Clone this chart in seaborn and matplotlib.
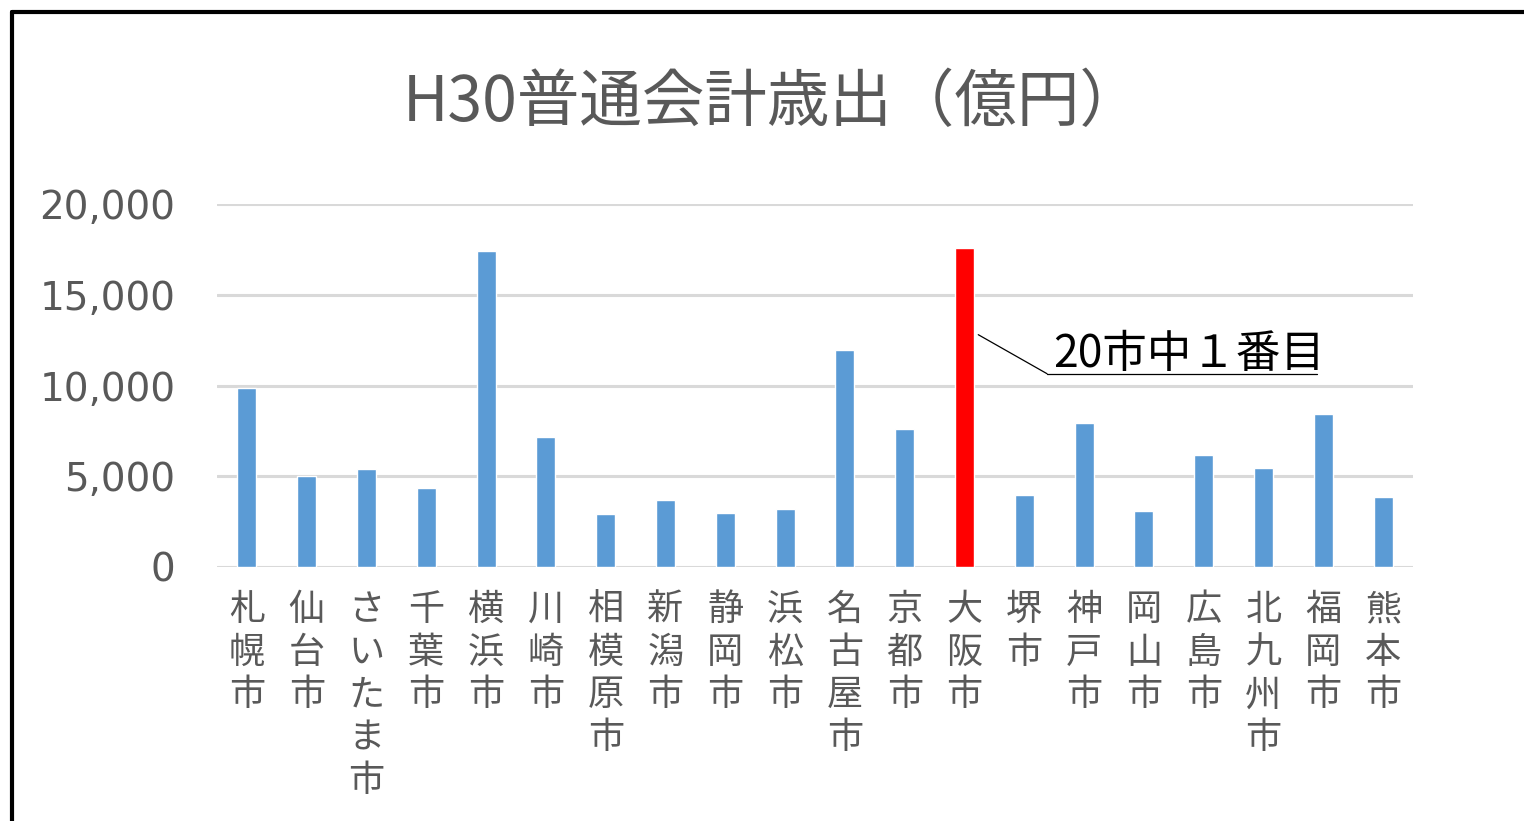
import matplotlib
matplotlib.use("Agg")
import matplotlib.pyplot as plt
from matplotlib.lines import Line2D
import seaborn as sns
import pandas as pd

cities = ["札幌市", "仙台市", "さいたま市", "千葉市", "横浜市", "川崎市", "相模原市",
          "新潟市", "静岡市", "浜松市", "名古屋市", "京都市", "大阪市", "堺市",
          "神戸市", "岡山市", "広島市", "北九州市", "福岡市", "熊本市"]
spending = [9870, 5030, 5400, 4330, 17400, 7150, 2900, 3700, 3000, 3200,
            11950, 7600, 17550, 3950, 7950, 3100, 6150, 5480, 8420, 3850]
highlight = "大阪市"
title = "H30普通会計歳出（億円）"
note = "20市中１番目"
yticks = [0, 5000, 10000, 15000, 20000]

blue = "#5B9BD5"
red = "#FF0000"
gray_text = "#595959"
grid_col = "#D9D9D9"

sns.set_theme(style="white")
plt.rcParams['font.family'] = ['Noto Sans CJK JP', 'DejaVu Sans']

df = pd.DataFrame({"city": cities, "value": spending})
palette = {c: (red if c == highlight else blue) for c in cities}

fig = plt.figure(figsize=(15.24, 8.21), dpi=100)
ax = fig.add_axes([217 / 1524, 1 - 567 / 821, (1413 - 217) / 1524, (567 - 204) / 821])

sns.barplot(data=df, x="city", y="value", hue="city", palette=palette,
            legend=False, width=0.32, ax=ax, saturation=1, zorder=3)

ax.set_ylim(0, 20000)
ax.set_xlim(-0.5, len(cities) - 0.5)
ax.set_yticks(yticks)
ax.set_yticklabels([f"{v:,}" for v in yticks], family=['DejaVu Sans'],
                   fontsize=28, color=gray_text)
ax.set_xticks(range(len(cities)))
ax.set_xticklabels(["\n".join(c) for c in cities], fontsize=26, color=gray_text,
                   linespacing=1.24, va="top")
ax.tick_params(axis="x", length=0, pad=18)
ax.tick_params(axis="y", length=0, pad=30)
ax.set_xlabel("")
ax.set_ylabel("")
for s in ax.spines.values():
    s.set_visible(False)
ax.yaxis.grid(True, color=grid_col, linewidth=2.2, zorder=0)
ax.set_axisbelow(True)

fig.text(773 / 1524, 1 - 103 / 821, title, ha="center", va="center",
         fontsize=45, color=gray_text)

# callout
hi = cities.index(highlight)
ax.plot([hi + 0.23, hi + 1.38], [12800, 10650], color="black", lw=0.9, zorder=4)
ax.plot([hi + 1.38, hi + 5.9], [10650, 10650], color="black", lw=0.9, zorder=4)
ax.text(hi + 1.48, 10480, note, ha="left", va="bottom", fontsize=32, color="black")

# frame
fig.add_artist(Line2D([12 / 1524, 12 / 1524], [0, 1 - 12 / 821],
                      transform=fig.transFigure, color="black", lw=3))
fig.add_artist(Line2D([12 / 1524, 1], [1 - 12 / 821, 1 - 12 / 821],
                      transform=fig.transFigure, color="black", lw=3))

fig.savefig("out.png", dpi=100)
